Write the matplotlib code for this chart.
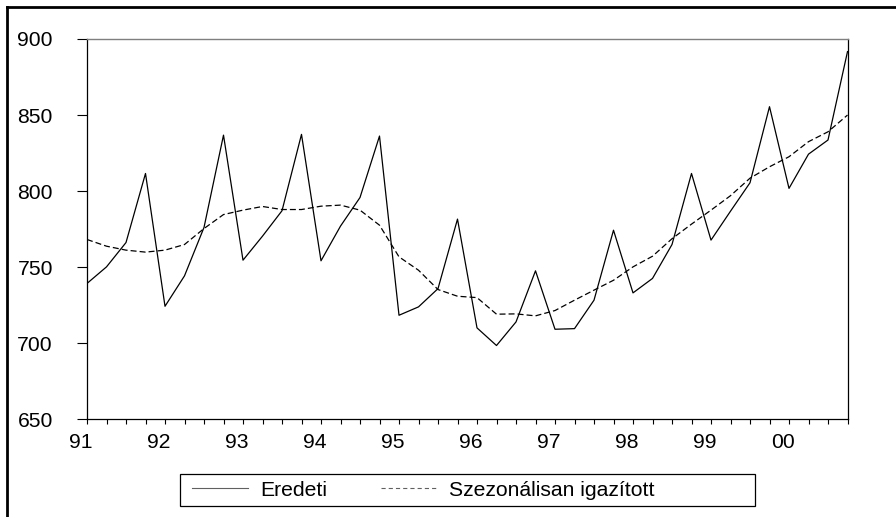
import numpy as np
import matplotlib
matplotlib.use("Agg")
import matplotlib.pyplot as plt
from matplotlib.ticker import MultipleLocator, FixedLocator
from matplotlib.transforms import ScaledTranslation
from matplotlib.lines import Line2D
from matplotlib.patches import Rectangle

# negyedéves adatok 1991Q1 - 2000Q4
eredeti = [739.3, 750.2, 766.2, 811.6, 724.3, 744.3, 776.1, 836.8,
           754.6, 770.4, 787.1, 837.3, 754.2, 777.0, 795.8, 836.2,
           718.4, 723.9, 735.9, 781.6, 710.1, 698.5, 714.0, 747.6,
           709.2, 709.6, 728.3, 774.3, 733.1, 742.6, 764.9, 811.6,
           767.8, 786.8, 805.5, 855.5, 801.8, 824.3, 833.6, 891.7]
igazitott = [768.2, 763.8, 761.2, 759.9, 761.2, 764.9, 775.4, 784.6,
             787.5, 789.9, 787.9, 787.9, 790.1, 790.8, 787.5, 777.6,
             756.8, 748.0, 735.3, 730.9, 730.0, 719.1, 719.3, 718.0,
             721.5, 728.3, 734.9, 741.4, 750.2, 757.2, 768.7, 778.3,
             787.5, 797.0, 808.5, 816.0, 822.6, 832.5, 839.0, 850.0]
evek = ['91', '92', '93', '94', '95', '96', '97', '98', '99', '00']
y_ticks = [650, 700, 750, 800, 850, 900]

plt.rcParams['font.family'] = ['Liberation Sans', 'DejaVu Sans']
plt.rcParams['lines.scale_dashes'] = False

fig = plt.figure(figsize=(8.96, 5.17), dpi=100)
W, H = 896, 517
ax = fig.add_axes([87 / W, 1 - 419.3 / H, 760.5 / W, 380.3 / H])

x = np.arange(len(eredeti))
ax.plot(x, eredeti, color='black', lw=0.9, label='Eredeti')
ax.plot(x, igazitott, color='black', lw=0.9, ls=(0, (4.3, 2.2)),
        label='Szezonálisan igazított')

ax.set_xlim(0, len(eredeti) - 1)
ax.set_ylim(650, 900)
ax.xaxis.set_major_locator(FixedLocator(np.arange(0, len(eredeti), 4)))
ax.set_xticklabels(evek)
ax.xaxis.set_minor_locator(MultipleLocator(1))
ax.set_yticks(y_ticks)

fs = 15.2
ax.tick_params(axis='x', which='both', direction='out', length=3.6,
               width=0.8, pad=6.5, labelsize=fs)
ax.tick_params(axis='y', direction='out', length=7.5, width=0.8,
               pad=17, labelsize=fs)
ax.tick_params(axis='y', which='minor', left=False)

off = ScaledTranslation(-6.5 / 100, 0, fig.dpi_scale_trans)
for lab in ax.get_xticklabels():
    lab.set_transform(lab.get_transform() + off)

for s in ['left', 'bottom', 'right']:
    ax.spines[s].set_linewidth(0.9)
    ax.spines[s].set_color('black')
ax.spines['top'].set_color('#7f7f7f')
ax.spines['top'].set_linewidth(1.0)

# jelmagyarázat
leg = fig.legend(loc='center left', bbox_to_anchor=(192 / W, 1 - 490 / H),
                 ncol=2, frameon=False, fontsize=fs, borderpad=0,
                 handlelength=2.65, handletextpad=0.57, columnspacing=2.55,
                 borderaxespad=0)
for ln in leg.get_lines():
    ln.set_color('#606060')
    ln.set_linewidth(0.8)
leg.get_lines()[1].set_linestyle((0, (3.0, 2.2)))
fig.add_artist(Rectangle((180 / W, 1 - 506 / H), 575 / W, 32 / H,
                         transform=fig.transFigure, fill=False,
                         lw=0.9, ec='black'))

# külső keret
fig.add_artist(Line2D([7 / W, 1], [1 - 7 / H, 1 - 7 / H],
                      transform=fig.transFigure, color='black', lw=2))
fig.add_artist(Line2D([7 / W, 7 / W], [0, 1 - 7 / H],
                      transform=fig.transFigure, color='black', lw=2))

fig.savefig('out.png', dpi=100)
